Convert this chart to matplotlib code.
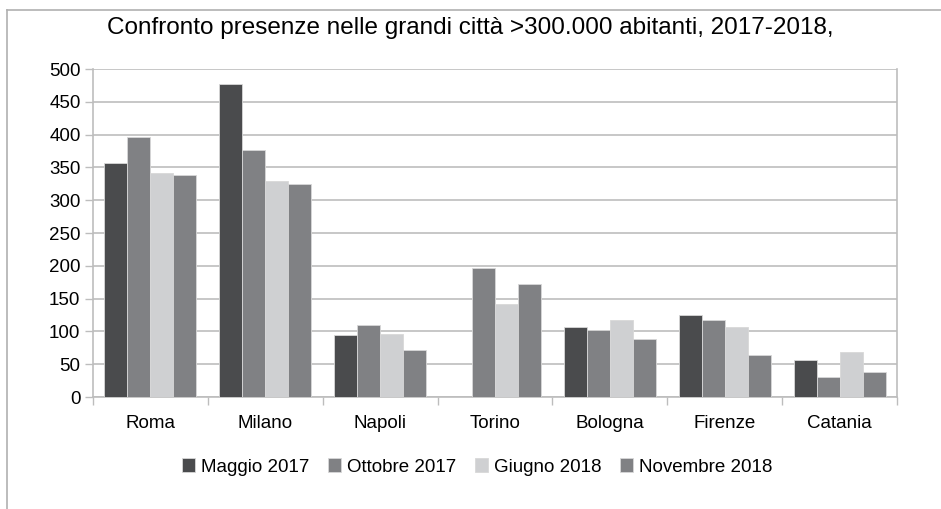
import matplotlib.pyplot as plt
import numpy as np

plt.rcParams['font.family'] = ['Liberation Sans', 'DejaVu Sans']

cities = ["Roma", "Milano", "Napoli", "Torino", "Bologna", "Firenze", "Catania"]
series_names = ["Maggio 2017", "Ottobre 2017", "Giugno 2018", "Novembre 2018"]
maggio_2017 = [357, 477, 94, 0, 107, 125, 57]
ottobre_2017 = [396, 377, 109, 196, 102, 118, 31]
giugno_2018 = [341, 330, 96, 142, 117, 107, 68]
novembre_2018 = [338, 325, 72, 173, 89, 64, 38]
y_ticks = [0, 50, 100, 150, 200, 250, 300, 350, 400, 450, 500]

series = [maggio_2017, ottobre_2017, giugno_2018, novembre_2018]
colors = ["#4a4b4d", "#808184", "#cfd0d2", "#808184"]
grid_col = "#bdbdbd"

fig = plt.figure(figsize=(9.41, 5.09), dpi=100)
ax = fig.add_axes([93 / 941, 1 - 397 / 509, (897 - 93) / 941, (397 - 69) / 509])

x = np.arange(len(cities))
group = 0.8
w = group / len(series)
for i, (vals, col, name) in enumerate(zip(series, colors, series_names)):
    ax.bar(x - group / 2 + w * (i + 0.5), vals, width=w, color=col,
           edgecolor="#d8d8d8", linewidth=0.6, label=name, zorder=3)

ax.set_xlim(-0.5, len(cities) - 0.5)
ax.set_ylim(0, 500)
ax.set_yticks(y_ticks)
ax.yaxis.grid(True, color=grid_col, linewidth=1.2, zorder=0)
ax.tick_params(axis="y", length=6, color=grid_col, width=1, labelsize=13.5, pad=3)

ax.set_xticks(x)
ax.set_xticklabels(cities, fontsize=13.5)
ax.tick_params(axis="x", length=0, pad=13)
ax.set_xticks(np.arange(-0.5, len(cities)), minor=True)
ax.tick_params(axis="x", which="minor", length=6, color=grid_col, width=1)

ax.spines["top"].set_visible(False)
for s in ["left", "right", "bottom"]:
    ax.spines[s].set_color(grid_col)
    ax.spines[s].set_linewidth(1.2)

fig.suptitle("Confronto presenze nelle grandi città >300.000 abitanti, 2017-2018,",
             x=0.5, y=1 - 28 / 509, va="center", fontsize=17.5)

fig.legend(loc="center", bbox_to_anchor=(0.507, 1 - 467 / 509), ncol=4,
           frameon=False, fontsize=13.5, handlelength=0.7, handleheight=0.7,
           handletextpad=0.3, columnspacing=1.0)

# outer chart frame (top and left edges visible)
fig.add_artist(plt.Line2D([7 / 941, 1], [1 - 10 / 509, 1 - 10 / 509],
                          transform=fig.transFigure, color="#b0b0b0", lw=1.2))
fig.add_artist(plt.Line2D([7 / 941, 7 / 941], [0, 1 - 10 / 509],
                          transform=fig.transFigure, color="#b0b0b0", lw=1.2))

fig.savefig("out.png", dpi=100)
